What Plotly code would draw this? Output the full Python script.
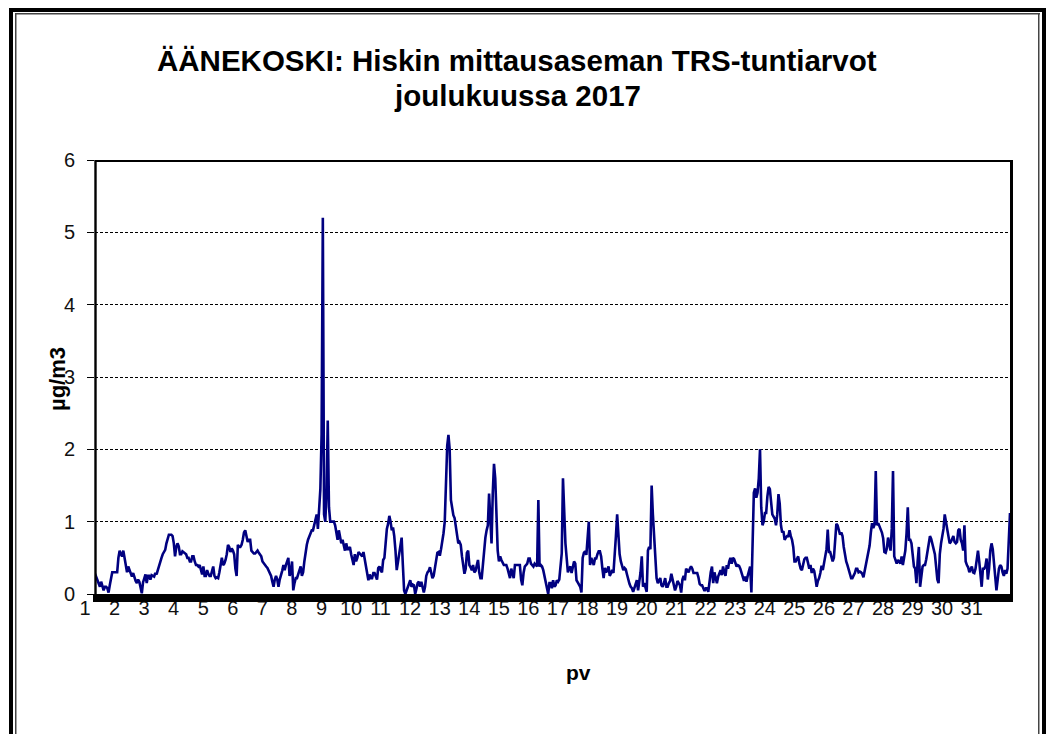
import plotly.graph_objects as go

# ---------------- data (hourly TRS values, µg/m3, December 2017) ----------------
days = list(range(1, 32))
tick_text = [str(d) for d in days]
y_ticks = [0, 1, 2, 3, 4, 5, 6]

day01 = [0.28,0.23,0.21,0.15,0.1,0.17,0.1,0.05,0.1,0.1,0.08,0.02,0.12,0.25,0.3,0.3,0.3,0.3,0.3,0.5,0.6,0.55,0.52,0.6]
day02 = [0.5,0.4,0.3,0.38,0.33,0.26,0.24,0.29,0.22,0.18,0.15,0.2,0.17,0.1,0.01,0.16,0.22,0.27,0.15,0.25,0.25,0.2,0.26,0.25]
day03 = [0.24,0.29,0.27,0.33,0.4,0.45,0.5,0.55,0.58,0.61,0.7,0.78,0.82,0.82,0.82,0.8,0.7,0.52,0.65,0.7,0.66,0.55,0.55,0.59]
day04 = [0.58,0.57,0.55,0.5,0.5,0.45,0.45,0.52,0.52,0.45,0.4,0.4,0.38,0.4,0.35,0.27,0.38,0.25,0.25,0.33,0.28,0.25,0.25,0.3]
day05 = [0.38,0.25,0.22,0.23,0.22,0.3,0.42,0.5,0.4,0.42,0.47,0.55,0.68,0.65,0.58,0.63,0.6,0.55,0.35,0.25,0.68,0.65,0.65,0.68]
day06 = [0.75,0.85,0.88,0.8,0.72,0.75,0.75,0.6,0.58,0.56,0.56,0.58,0.6,0.57,0.55,0.52,0.45,0.42,0.4,0.38,0.36,0.33,0.3,0.25]
day07 = [0.17,0.1,0.2,0.25,0.2,0.1,0.2,0.25,0.32,0.4,0.33,0.4,0.45,0.5,0.25,0.3,0.45,0.05,0.15,0.22,0.22,0.28,0.33,0.38]
day08 = [0.25,0.3,0.45,0.58,0.68,0.75,0.8,0.85,0.88,0.88,0.95,1.05,1.1,0.9,1.15,1.45,2.2,5.2,1.1,1.0,1.4,2.4,1.2,1.0]
day09 = [1.0,1.0,1.0,0.95,0.85,0.75,0.88,0.8,0.7,0.75,0.68,0.6,0.7,0.62,0.62,0.65,0.55,0.45,0.4,0.55,0.45,0.5,0.58,0.56]
day10 = [0.54,0.52,0.58,0.48,0.38,0.3,0.19,0.27,0.22,0.22,0.29,0.29,0.25,0.2,0.36,0.38,0.33,0.3,0.47,0.5,0.7,0.9,0.97,1.08]
day11 = [1.0,0.88,0.92,0.8,0.6,0.33,0.44,0.55,0.62,0.78,0.4,0.05,0.0,0.05,0.1,0.15,0.19,0.1,0.13,0.12,0.0,0.07,0.15,0.17]
day12 = [0.1,0.17,0.1,0.02,0.1,0.25,0.3,0.32,0.37,0.28,0.22,0.25,0.36,0.48,0.57,0.58,0.53,0.62,0.72,0.84,1.0,1.6,2.05,2.2]
day13 = [2.0,1.3,1.15,1.09,1.05,0.95,0.8,0.7,0.72,0.68,0.52,0.4,0.28,0.35,0.57,0.6,0.4,0.37,0.33,0.4,0.3,0.32,0.38,0.47]
day14 = [0.3,0.22,0.22,0.42,0.6,0.78,0.88,0.95,1.39,1.1,0.7,1.4,1.8,1.6,1.2,0.6,0.45,0.52,0.47,0.42,0.4,0.4,0.4,0.35]
day15 = [0.28,0.22,0.35,0.3,0.22,0.4,0.4,0.4,0.4,0.4,0.2,0.12,0.29,0.38,0.4,0.42,0.49,0.49,0.42,0.4,0.38,0.42,0.4,0.38]
day16 = [1.3,0.38,0.4,0.38,0.33,0.25,0.2,0.08,0.0,0.15,0.15,0.08,0.19,0.1,0.12,0.19,0.17,0.2,0.35,0.56,1.6,1.1,0.7,0.5]
day17 = [0.3,0.35,0.38,0.29,0.4,0.45,0.42,0.19,0.16,0.12,0.1,0.02,0.5,0.57,0.59,0.54,0.8,1.0,0.4,0.5,0.45,0.4,0.49,0.49]
day18 = [0.55,0.59,0.59,0.52,0.35,0.22,0.36,0.3,0.33,0.38,0.25,0.3,0.33,0.29,0.5,0.8,1.1,0.75,0.55,0.45,0.37,0.33,0.36,0.34]
day19 = [0.27,0.19,0.14,0.1,0.08,0.03,0.08,0.15,0.19,0.05,0.15,0.3,0.52,0.1,0.15,0.1,0.03,0.6,0.65,0.62,1.5,1.1,0.75,0.55]
day20 = [0.22,0.15,0.18,0.22,0.12,0.1,0.15,0.22,0.1,0.1,0.15,0.18,0.28,0.2,0.1,0.05,0.1,0.18,0.15,0.12,0.02,0.2,0.25,0.19]
day21 = [0.35,0.33,0.3,0.35,0.38,0.35,0.29,0.29,0.29,0.29,0.23,0.14,0.12,0.12,0.08,0.04,0.08,0.08,0.03,0.2,0.3,0.38,0.15,0.3]
day22 = [0.22,0.15,0.24,0.3,0.33,0.26,0.38,0.3,0.25,0.4,0.35,0.45,0.5,0.42,0.5,0.48,0.42,0.38,0.4,0.39,0.35,0.29,0.22,0.18]
day23 = [0.24,0.17,0.25,0.32,0.38,0.02,0.9,1.4,1.46,1.33,1.4,1.6,2.0,1.2,0.95,1.0,1.12,1.12,1.35,1.48,1.45,1.2,1.1,1.07]
day24 = [1.04,0.95,1.1,1.38,1.25,0.95,0.85,0.87,0.75,0.78,0.8,0.8,0.88,0.8,0.75,0.65,0.45,0.45,0.48,0.52,0.42,0.35,0.33,0.4]
day25 = [0.48,0.5,0.5,0.43,0.35,0.4,0.29,0.35,0.32,0.22,0.1,0.18,0.22,0.29,0.39,0.33,0.42,0.52,0.62,0.89,0.58,0.58,0.52,0.45]
day26 = [0.5,0.75,0.97,0.95,0.87,0.82,0.85,0.8,0.65,0.52,0.45,0.4,0.33,0.25,0.22,0.22,0.25,0.29,0.35,0.35,0.3,0.31,0.3,0.28]
day27 = [0.23,0.33,0.42,0.47,0.58,0.67,0.85,0.98,0.91,0.96,1.7,0.95,0.98,0.93,0.91,0.85,0.77,0.58,0.57,0.63,0.78,0.68,0.6,0.9]
day28 = [1.7,0.52,0.47,0.42,0.47,0.45,0.42,0.52,0.4,0.5,0.6,0.84,1.2,0.75,0.75,0.7,0.5,0.38,0.35,0.15,0.45,0.65,0.1,0.3]
day29 = [0.38,0.4,0.4,0.48,0.6,0.68,0.8,0.76,0.7,0.63,0.55,0.38,0.2,0.15,0.55,0.7,0.82,0.9,1.1,1.0,0.92,0.83,0.7,0.72]
day30 = [0.75,0.8,0.72,0.7,0.72,0.88,0.9,0.75,0.7,0.6,0.95,0.45,0.4,0.37,0.3,0.33,0.38,0.3,0.29,0.35,0.5,0.6,0.45,0.3]
day31 = [0.1,0.35,0.35,0.38,0.49,0.2,0.35,0.6,0.7,0.62,0.45,0.3,0.05,0.2,0.35,0.4,0.38,0.3,0.25,0.33,0.28,0.35,0.7,1.12]

daily = [day01, day02, day03, day04, day05, day06, day07, day08, day09, day10,
         day11, day12, day13, day14, day15, day16, day17, day18, day19, day20,
         day21, day22, day23, day24, day25, day26, day27, day28, day29, day30, day31]
for k, d in enumerate(daily):
    assert len(d) == 24, (k + 1, len(d))

values = [v for d in daily for v in d]
hours = list(range(len(values)))
tick_vals = [24 * (d - 1) for d in days]

# ---------------- geometry ----------------
# The page puts the figure at an 8 px body margin; all positions below are
# given in screenshot pixels and converted with OFF.
OFF = 8
W, H = 1054 - OFF, 734 - OFF
L, R, T, B = 95, 1010, 160, 594          # plot area in screenshot pixels
PW, PH = R - L, B - T

def xp(px):
    return (px - L) / PW

def yp(py):
    return (B - py) / PH

FONT = "Liberation Sans, Arial, sans-serif"
NARROW = "Liberation Sans Narrow, Arial Narrow, Liberation Sans, sans-serif"

fig = go.Figure()
fig.add_trace(go.Scatter(
    x=hours, y=values, mode="lines",
    line=dict(color="#000080", width=2.6),
    hoverinfo="skip", showlegend=False,
))

def rect(x0, x1, y0, y1, color="black"):
    return dict(type="rect", xref="paper", yref="paper",
                x0=xp(x0), x1=xp(x1), y0=yp(y1), y1=yp(y0),
                fillcolor=color, line_width=0, layer="above")

shapes = [
    # outer double frame
    rect(9, 13, 8, 760),
    rect(15, 16.5, 13, 760, "#444444"),
    rect(9, 1046, 8, 12),
    rect(15, 1040, 13, 14.5, "#444444"),
    rect(1042, 1046, 8, 760),
    rect(1038, 1039.5, 13, 760, "#444444"),
    # plot-area border
    rect(94.3, 96.7, 160, 594),
    rect(95, 1012, 160, 162),
    rect(1010, 1013, 160, 602),
    rect(93, 1013, 594, 602),
]

annotations = [
    dict(text="<b>ÄÄNEKOSKI: Hiskin mittausaseman TRS-tuntiarvot</b>",
         xref="paper", yref="paper", x=xp(517), y=yp(60),
         xanchor="center", yanchor="middle", showarrow=False,
         font=dict(family=FONT, size=29.5, color="black")),
    dict(text="<b>joulukuussa 2017</b>",
         xref="paper", yref="paper", x=xp(517), y=yp(95),
         xanchor="center", yanchor="middle", showarrow=False,
         font=dict(family=FONT, size=29.5, color="black")),
    dict(text="<b>µg/m3</b>", textangle=-90,
         xref="paper", yref="paper", x=xp(57), y=yp(379),
         xanchor="center", yanchor="middle", showarrow=False,
         font=dict(family=FONT, size=22, color="black")),
    dict(text="<b>pv</b>",
         xref="paper", yref="paper", x=xp(578), y=yp(672),
         xanchor="center", yanchor="middle", showarrow=False,
         font=dict(family=NARROW, size=21, color="black")),
]

fig.update_layout(
    width=W, height=H,
    margin=dict(l=L - OFF, r=W - (R - OFF), t=T - OFF, b=H - (B - OFF), pad=0),
    paper_bgcolor="white", plot_bgcolor="white",
    font=dict(family=NARROW, size=20, color="black"),
    shapes=shapes, annotations=annotations,
    showlegend=False,
)
fig.update_xaxes(
    range=[0, len(values) - 1], tickmode="array",
    tickvals=tick_vals, ticktext=tick_text,
    showgrid=False, zeroline=False, showline=False,
    ticks="", ticklabelstandoff=0, ticklabelshift=-10,
    tickfont=dict(family=NARROW, size=20, color="#111111"),
)
fig.update_yaxes(
    range=[0, 6], tickmode="array", tickvals=y_ticks,
    showgrid=True, gridcolor="black", gridwidth=1, griddash="3px,2px",
    zeroline=False, showline=False,
    ticks="outside", ticklen=7, tickcolor="black", tickwidth=1.3,
    ticklabelstandoff=8,
    tickfont=dict(family=NARROW, size=20, color="#111111"),
)

fig.write_html("out.html")
